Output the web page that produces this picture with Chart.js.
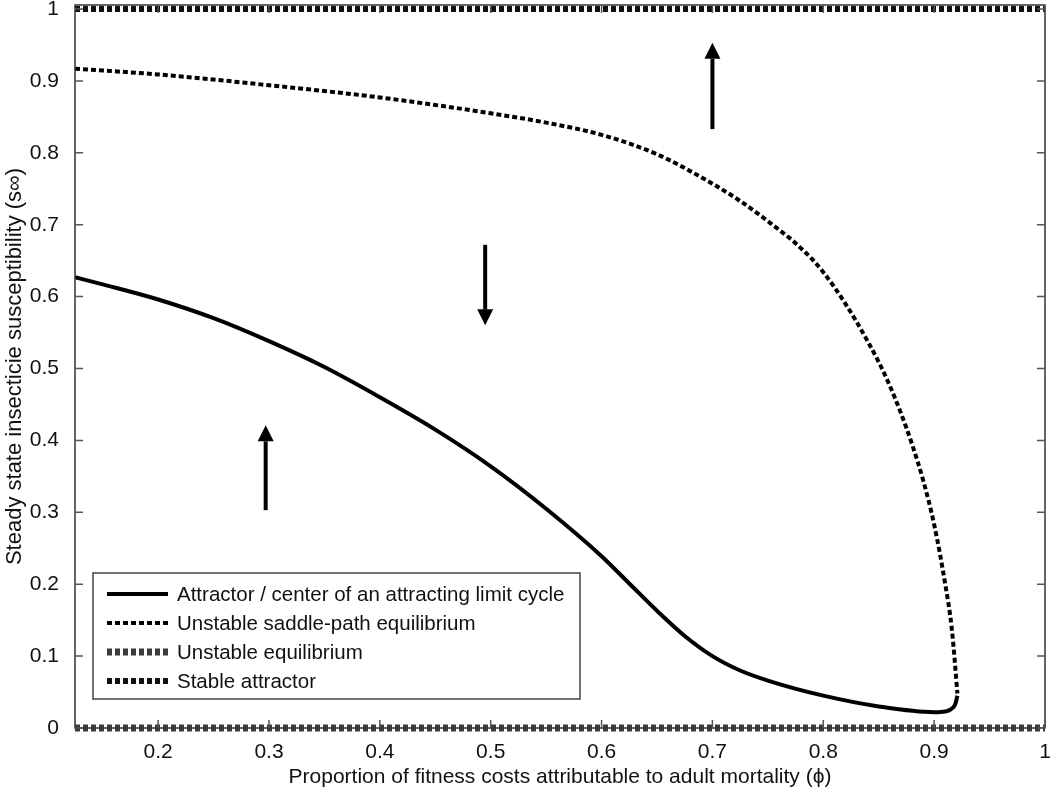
<!DOCTYPE html>
<html lang="en">
<head>
<meta charset="UTF-8">
<title>Steady state insecticide susceptibility</title>
<script src="https://cdn.jsdelivr.net/npm/chart.js@4.4.1/dist/chart.umd.min.js"></script>
<style>
  html, body { margin: 0; padding: 0; background: #fff; }
  #wrap { width: 1050px; height: 798px; }
</style>
</head>
<body>
<div id="wrap"><canvas id="chart" width="1050" height="798"></canvas></div>
<script>
'use strict';

// ---------------------------------------------------------------
// Datos
// ---------------------------------------------------------------
const xTicks = [0.2, 0.3, 0.4, 0.5, 0.6, 0.7, 0.8, 0.9, 1];
const yTicks = [0, 0.1, 0.2, 0.3, 0.4, 0.5, 0.6, 0.7, 0.8, 0.9, 1];

// Attractor / center of an attracting limit cycle (línea sólida)
const phiAttractor = [0.125, 0.15, 0.2, 0.25, 0.3, 0.35, 0.4, 0.45, 0.5, 0.55, 0.6, 0.625, 0.65, 0.675, 0.7, 0.725, 0.75, 0.8, 0.85, 0.9, 0.91, 0.915, 0.919, 0.921];
const sAttractor   = [0.627, 0.617, 0.596, 0.570, 0.538, 0.502, 0.460, 0.415, 0.364, 0.305, 0.239, 0.201, 0.163, 0.128, 0.100, 0.080, 0.066, 0.045, 0.030, 0.022, 0.023, 0.026, 0.033, 0.045];

// Unstable saddle-path equilibrium (punteada)
const phiSaddle = [0.125, 0.2, 0.3, 0.4, 0.5, 0.55, 0.6, 0.65, 0.7, 0.725, 0.75, 0.76, 0.77, 0.78, 0.79, 0.8, 0.81, 0.82, 0.83, 0.84, 0.85, 0.86, 0.87, 0.88, 0.89, 0.9, 0.91, 0.916, 0.921];
const sSaddle   = [0.917, 0.909, 0.894, 0.877, 0.855, 0.842, 0.825, 0.798, 0.757, 0.733, 0.705, 0.693, 0.681, 0.667, 0.652, 0.634, 0.613, 0.590, 0.565, 0.538, 0.509, 0.476, 0.438, 0.395, 0.345, 0.283, 0.200, 0.137, 0.048];

// Equilibrios triviales
const phiFlat = [0.125, 1];
const sUnstable = [0, 0];
const sStable   = [1, 1];

// Flechas de dirección
const arrowPhi  = [0.700, 0.495, 0.297];
const arrowFrom = [0.833, 0.672, 0.303];
const arrowTo   = [0.953, 0.560, 0.421];

const legendLabels = [
  'Attractor / center of an attracting limit cycle',
  'Unstable saddle-path equilibrium',
  'Unstable equilibrium',
  'Stable attractor'
];

const FONT = "'Liberation Sans', Arial, Helvetica, sans-serif";
Chart.defaults.font.family = FONT;
Chart.defaults.color = '#111';

const pts = (xs, ys) => xs.map((x, i) => ({ x, y: ys[i] }));

// Estilos de cada serie (orden = leyenda)
const ESTILOS = [
  { color: '#000', width: 4, dash: [] },
  { color: '#000', width: 4, dash: [5, 3] },
  { color: '#3a3a3a', width: 7, dash: [5, 3] },
  { color: '#111', width: 6, dash: [5, 3] }
];

// ---------------------------------------------------------------
// Plugin: marco, ticks interiores, flechas y leyenda
// ---------------------------------------------------------------
const decoracion = {
  id: 'decoracion',
  afterDatasetsDraw(chart) {
    const { ctx, chartArea: a, scales } = chart;
    const xs = scales.x, ys = scales.y;
    ctx.save();

    // marco
    ctx.strokeStyle = '#333';
    ctx.lineWidth = 1.5;
    ctx.setLineDash([]);
    ctx.strokeRect(a.left, a.top, a.right - a.left, a.bottom - a.top);

    // ticks hacia adentro
    ctx.strokeStyle = '#555';
    ctx.lineWidth = 1.5;
    ctx.beginPath();
    xTicks.forEach(v => {
      const px = xs.getPixelForValue(v);
      ctx.moveTo(px, a.bottom); ctx.lineTo(px, a.bottom - 8);
      ctx.moveTo(px, a.top);    ctx.lineTo(px, a.top + 8);
    });
    yTicks.forEach(v => {
      const py = ys.getPixelForValue(v);
      ctx.moveTo(a.left, py);  ctx.lineTo(a.left + 8, py);
      ctx.moveTo(a.right, py); ctx.lineTo(a.right - 8, py);
    });
    ctx.stroke();

    // flechas
    ctx.strokeStyle = '#000';
    ctx.fillStyle = '#000';
    ctx.lineWidth = 4;
    arrowPhi.forEach((p, i) => {
      const px = xs.getPixelForValue(p);
      const y0 = ys.getPixelForValue(arrowFrom[i]);
      const y1 = ys.getPixelForValue(arrowTo[i]);
      const dir = y1 < y0 ? 1 : -1; // 1 = hacia arriba
      const base = y1 + dir * 16;
      ctx.beginPath();
      ctx.moveTo(px, y0); ctx.lineTo(px, base);
      ctx.stroke();
      ctx.beginPath();
      ctx.moveTo(px, y1);
      ctx.lineTo(px - 8, base);
      ctx.lineTo(px + 8, base);
      ctx.closePath();
      ctx.fill();
    });

    // leyenda
    const lx = a.left + 18, ly = 573, lw = 487, lh = 126;
    ctx.fillStyle = '#fff';
    ctx.fillRect(lx, ly, lw, lh);
    ctx.strokeStyle = '#444';
    ctx.lineWidth = 1.5;
    ctx.strokeRect(lx, ly, lw, lh);
    ctx.font = `20.5px ${FONT}`;
    ctx.textBaseline = 'middle';
    legendLabels.forEach((txt, i) => {
      const rowY = ly + 21 + i * 29;
      const e = ESTILOS[i];
      ctx.strokeStyle = e.color;
      ctx.lineWidth = e.width;
      ctx.setLineDash(e.dash);
      ctx.beginPath();
      ctx.moveTo(lx + 14, rowY); ctx.lineTo(lx + 75, rowY);
      ctx.stroke();
      ctx.setLineDash([]);
      ctx.fillStyle = '#111';
      ctx.fillText(txt, lx + 84, rowY + 1);
    });

    ctx.restore();
  }
};

const serie = (data, i, clip) => ({
  data,
  borderColor: ESTILOS[i].color,
  borderWidth: ESTILOS[i].width,
  borderDash: ESTILOS[i].dash,
  pointRadius: 0,
  showLine: true,
  cubicInterpolationMode: 'monotone',
  fill: false,
  clip
});

new Chart(document.getElementById('chart'), {
  type: 'scatter',
  data: {
    datasets: [
      serie(pts(phiAttractor, sAttractor), 0),
      serie(pts(phiSaddle, sSaddle), 1),
      serie(pts(phiFlat, sUnstable), 2, false),
      serie(pts(phiFlat, sStable), 3, false)
    ]
  },
  options: {
    responsive: false,
    animation: false,
    layout: { padding: { top: 5, right: 5, left: 0, bottom: 0 } },
    plugins: { legend: { display: false }, tooltip: { enabled: false } },
    scales: {
      x: {
        type: 'linear',
        min: 0.125,
        max: 1,
        afterBuildTicks: s => { s.ticks = xTicks.map(v => ({ value: v })); },
        afterFit: s => {
          s.height = 70;
          s.paddingLeft = 0;
          s.paddingRight = 0;
        },
        grid: { display: false },
        border: { display: false },
        ticks: {
          padding: 4,
          color: '#111',
          font: { size: 21 },
          maxRotation: 0,
          callback: v => String(v)
        },
        title: {
          display: true,
          text: 'Proportion of fitness costs attributable to adult mortality (\u03d5)',
          color: '#111',
          font: { size: 21 },
          padding: { top: 0, bottom: 8 }
        }
      },
      y: {
        type: 'linear',
        min: 0,
        max: 1.0056,
        afterBuildTicks: s => { s.ticks = yTicks.map(v => ({ value: v })); },
        afterFit: s => {
          s.width = 75;
          s.paddingTop = 0;
          s.paddingBottom = 0;
        },
        grid: { display: false },
        border: { display: false },
        ticks: {
          padding: 8,
          color: '#111',
          font: { size: 21 },
          callback: v => String(v)
        },
        title: {
          display: true,
          text: 'Steady state insecticie susceptibility (s\u221e)',
          color: '#111',
          font: { size: 22 },
          padding: { top: 2, bottom: 4 }
        }
      }
    }
  },
  plugins: [decoracion]
});
</script>
</body>
</html>
